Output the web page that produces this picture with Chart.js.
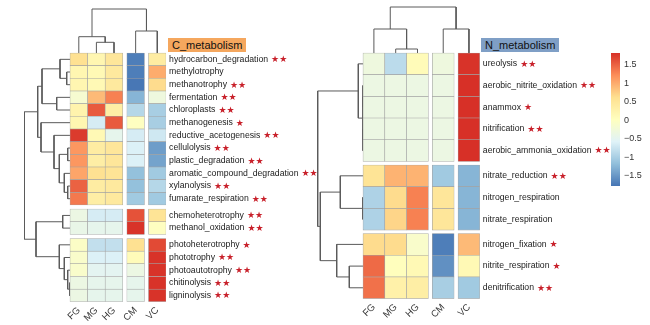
<!DOCTYPE html>
<html>
<head>
<meta charset="utf-8">
<script src="https://cdn.jsdelivr.net/npm/chart.js@4.4.1/dist/chart.umd.min.js"></script>
<style>
  body { margin: 0; background: #fff; width: 650px; height: 325px; overflow: hidden; position: relative; font-family: "Liberation Sans", Arial, sans-serif; }
  canvas { position: absolute; top: 0; }
  .tag { position: absolute; top: 38px; height: 14px; line-height: 14px; font-size: 11px; padding: 0 4px; color: #111; }
</style>
</head>
<body>
<canvas id="keyChart" width="45" height="325" style="left:605px"></canvas>
<canvas id="cChart" width="330" height="325" style="left:0"></canvas>
<canvas id="nChart" width="328" height="325" style="left:290px"></canvas>
<div class="tag" style="left:168px;width:70px;background:#f5a75e">C_metabolism</div>
<div class="tag" style="left:481px;width:70px;background:#7f9fc6">N_metabolism</div>
<script>
const colLabels = ["FG", "MG", "HG", "CM", "VC"];

// C metabolism
const cRows = ["hydrocarbon_degradation", "methylotrophy", "methanotrophy", "fermentation", "chloroplasts",
  "methanogenesis", "reductive_acetogenesis", "cellulolysis", "plastic_degradation",
  "aromatic_compound_degradation", "xylanolysis", "fumarate_respiration", "chemoheterotrophy",
  "methanol_oxidation", "photoheterotrophy", "phototrophy", "photoautotrophy", "chitinolysis", "ligninolysis"];
const cStars = [2, 0, 2, 2, 2, 1, 2, 2, 2, 2, 2, 2, 2, 2, 1, 2, 2, 2, 2];
const cGroups = [12, 2, 5];
const cFG = [0.6, 0.2, 0.2, -0.15, 0.25, 0.2, 1.75, 1.15, 1.15, 1.05, 1.5, 1.35, -0.35, -0.4, -0.05, -0.1, -0.1, -0.35, -0.35];
const cMG = [0.2, 0.15, 0.15, 0.9, 1.55, -0.65, 0.15, 0.4, 0.35, 0.6, 0.4, 0.35, -0.65, -0.45, -0.8, -0.6, -0.5, -0.45, -0.45];
const cHG = [0.5, 0.45, 0.45, 1.3, 0.35, 1.55, -0.45, 0.5, 0.5, 0.55, 0.45, 0.45, -0.65, -0.45, -0.8, -0.6, -0.5, -0.45, -0.45];
const cCM = [-1.7, -1.7, -1.75, -1.25, -0.9, 0.0, -0.65, -0.6, -0.6, -1.15, -1.15, -1.05, 1.6, 1.8, 0.6, 0.1, -0.35, -0.45, -0.45];
const cVC = [0.4, 1.0, 0.65, -0.3, -1.0, -1.0, -0.7, -1.45, -1.4, -1.05, -0.9, -1.05, 0.55, 0.0, 1.65, 1.8, 1.8, 1.8, 1.8];
// dendrograms: [mergeHeight, left, right], leaves are row/column indexes
const cRowTree = [45.5,
  [32.3, [28, [10, 0, [3.3, 1, 2]], [13.3, 3, 4]],
         [29, 5, [16, 6, [10.7, [2.3, 7, 8], [5.7, 9, [2.3, 10, 11]]]]]],
  [34, [7.3, 12, 13], [10.7, 14, [5.7, 15, [2.3, 16, [0.5, 17, 18]]]]]];
const cColTree = [44, [16.3, 0, [10.7, 1, 2]], [22, 3, 4]];

// N metabolism
const nRows = ["ureolysis", "aerobic_nitrite_oxidation", "anammox", "nitrification", "aerobic_ammonia_oxidation",
  "nitrate_reduction", "nitrogen_respiration", "nitrate_respiration", "nitrogen_fixation",
  "nitrite_respiration", "denitrification"];
const nStars = [2, 2, 1, 2, 2, 2, 0, 0, 1, 1, 2];
const nGroups = [5, 3, 3];
const nFG = [-0.3, -0.35, -0.35, -0.35, -0.35, 0.55, -0.95, -0.95, 0.65, 1.45, 1.4];
const nMG = [-0.85, -0.35, -0.35, -0.35, -0.35, 0.95, 0.65, 0.7, 0.65, 0.05, 0.3];
const nHG = [0.1, -0.35, -0.35, -0.35, -0.35, 0.95, 1.3, 1.3, -0.1, 0.15, 0.35];
const nCM = [-0.3, -0.35, -0.35, -0.35, -0.35, -1.05, 0.5, 0.5, -1.7, -1.55, -1.0];
const nVC = [1.8, 1.82, 1.82, 1.82, 1.82, -1.25, -1.25, -1.25, 0.9, 0.15, -1.05];
const nRowTree = [45.3, [4.7, 0, [0.2, [0.1, 1, 2], [0.1, 3, 4]]],
  [42.7, [22.7, 5, [0.3, 6, 7]], [26.3, 8, [13.7, 9, 10]]]];
const nColTree = [46, [24, 0, [4, 1, 2]], [24, 3, 4]];

// colour key
const vMin = -1.77, vMax = 1.82;
const keyTicks = [1.5, 1, 0.5, 0, -0.5, -1, -1.5];
const palette = ["#4575B4", "#91BFDB", "#E0F3F8", "#FFFFBF", "#FEE090", "#FC8D59", "#D73027"];

const FONT = '"Liberation Sans", Arial, sans-serif';
const LABEL_SIZE = 8.7;

function hex(c) {
  return [1, 3, 5].map(i => parseInt(c.slice(i, i + 2), 16));
}

function heat(v) {
  let t = (v - vMin) / (vMax - vMin) * (palette.length - 1);
  t = Math.max(0, Math.min(palette.length - 1, t));
  const i = Math.min(Math.floor(t), palette.length - 2), f = t - i;
  const a = hex(palette[i]), b = hex(palette[i + 1]);
  const m = a.map((x, k) => Math.round(x + (b[k] - x) * f));
  return "rgb(" + m.join(",") + ")";
}

function treeLines(tree, leafPos, toXY) {
  const pts = [];
  function walk(n) {
    if (typeof n === "number") return { p: leafPos[n], h: 0 };
    const a = walk(n[1]), b = walk(n[2]);
    pts.push(toXY(a.p, a.h), toXY(a.p, n[0]), toXY(b.p, n[0]), toXY(b.p, b.h), { x: null, y: null });
    return { p: (a.p + b.p) / 2, h: n[0] };
  }
  walk(tree);
  return pts;
}

// no extra room round the plot area for tick labels
function noPad(s) {
  s.paddingTop = 0; s.paddingBottom = 0; s.paddingLeft = 0; s.paddingRight = 0;
}

const starPlugin = {
  id: "stars",
  afterDraw(chart, args, opts) {
    const s = chart.scales.y, ctx = chart.ctx;
    ctx.save();
    ctx.textBaseline = "middle";
    opts.counts.forEach((n, i) => {
      if (!n) return;
      ctx.font = LABEL_SIZE + "px " + FONT;
      const w = ctx.measureText(opts.labels[i]).width;
      ctx.font = "9px 'DejaVu Sans'";
      ctx.fillStyle = "#c8202a";
      ctx.fillText("\u2605".repeat(n), s.left + 3 + w + 3, s.getPixelForTick(i) + 0.5);
    });
    ctx.restore();
  }
};

function heatChart(id, spec) {
  const colStart = [0, 1, 2, 3 + spec.colGap, 4 + 2 * spec.colGap];
  const colMid = colStart.map(c => c + 0.5);
  const colEnd = colStart[4] + 1;
  const rowMid = [];
  let pos = 0;
  spec.groups.forEach(n => {
    for (let k = 0; k < n; k++) rowMid.push(pos + k + 0.5);
    pos += n + spec.rowGap;
  });
  const rowEnd = pos - spec.rowGap;

  const cells = [], colors = [];
  spec.cols.forEach((vals, c) => vals.forEach((v, r) => {
    cells.push({ x: [colStart[c], colStart[c] + 1], y: rowMid[r] });
    colors.push(heat(v));
  }));
  const rowLines = treeLines(spec.rowTree, rowMid, (p, h) => ({ x: -h / spec.cellW, y: p }));
  const colLines = treeLines(spec.colTree, colMid, (p, h) => ({ x: p, y: -h / spec.cellH }));

  const canvas = document.getElementById(id);
  const axisW = canvas.width - spec.left - colEnd * spec.cellW;
  const axisH = canvas.height - spec.top - rowEnd * spec.cellH;
  const line = { borderColor: "#5a5a5a", borderWidth: 1, pointRadius: 0, fill: false, spanGaps: false, tension: 0 };

  return new Chart(canvas, {
    type: "bar",
    data: {
      datasets: [
        { data: cells, backgroundColor: colors, borderColor: "#a3a3a3", borderWidth: 0.6, borderSkipped: false,
          barPercentage: 1, categoryPercentage: 1, indexAxis: "y" },
        Object.assign({ type: "line", data: rowLines }, line),
        Object.assign({ type: "line", data: colLines }, line)
      ]
    },
    options: {
      indexAxis: "y",
      responsive: false,
      animation: false,
      devicePixelRatio: 1,
      events: [],
      layout: { padding: 0 },
      plugins: { legend: { display: false }, tooltip: { enabled: false },
                 stars: { counts: spec.stars, labels: spec.rows } },
      scales: {
        x: {
          type: "linear", position: "bottom", offset: false, beginAtZero: false,
          min: -spec.left / spec.cellW, max: colEnd,
          grid: { display: false, drawTicks: false }, border: { display: false },
          afterBuildTicks: s => { s.ticks = colMid.map(v => ({ value: v })); },
          afterFit: s => { s.height = axisH; noPad(s); },
          ticks: { autoSkip: false, minRotation: 45, maxRotation: 45, padding: 3,
                   color: "#333", font: { family: FONT, size: 9.5 },
                   callback: (v, i) => colLabels[i] }
        },
        y: {
          type: "linear", position: "right", reverse: true, offset: false, beginAtZero: false,
          min: -spec.top / spec.cellH, max: rowEnd,
          grid: { display: false, drawTicks: false }, border: { display: false },
          afterBuildTicks: s => { s.ticks = rowMid.map(v => ({ value: v })); },
          afterFit: s => { s.width = axisW; noPad(s); },
          ticks: { autoSkip: false, padding: 3, color: "#1a1a1a",
                   font: { family: FONT, size: LABEL_SIZE },
                   callback: (v, i) => spec.rows[i] }
        }
      }
    },
    plugins: [starPlugin]
  });
}

heatChart("cChart", {
  rows: cRows, stars: cStars, groups: cGroups, cols: [cFG, cMG, cHG, cCM, cVC],
  rowTree: cRowTree, colTree: cColTree,
  cellW: 17.6, cellH: 12.67, rowGap: 0.32, colGap: 0.23, left: 70, top: 53
});

heatChart("nChart", {
  rows: nRows, stars: nStars, groups: nGroups, cols: [nFG, nMG, nHG, nCM, nVC],
  rowTree: nRowTree, colTree: nColTree,
  cellW: 21.8, cellH: 21.7, rowGap: 0.16, colGap: 0.18, left: 73, top: 53
});

new Chart(document.getElementById("keyChart"), {
  type: "bar",
  data: {
    labels: ["key"],
    datasets: [{
      data: [[vMin, vMax]],
      barPercentage: 1, categoryPercentage: 1, borderWidth: 0,
      backgroundColor: ctx => {
        const chart = ctx.chart;
        if (!chart.chartArea) return palette[3];
        const y = chart.scales.y;
        const g = chart.ctx.createLinearGradient(0, y.getPixelForValue(vMin), 0, y.getPixelForValue(vMax));
        palette.forEach((c, i) => g.addColorStop(i / (palette.length - 1), c));
        return g;
      }
    }]
  },
  options: {
    responsive: false,
    animation: false,
    devicePixelRatio: 1,
    events: [],
    layout: { padding: { left: 6, top: 53, bottom: 139, right: 0 } },
    plugins: { legend: { display: false }, tooltip: { enabled: false } },
    scales: {
      x: { display: false },
      y: {
        type: "linear", position: "right", min: vMin, max: vMax,
        grid: { display: false, drawTicks: false }, border: { display: false },
        afterBuildTicks: s => { s.ticks = keyTicks.map(v => ({ value: v })); },
        afterFit: s => { s.width = 30; noPad(s); },
        ticks: { padding: 4, color: "#333", font: { family: FONT, size: 9 },
                 callback: v => (v < 0 ? "\u2212" + Math.abs(v) : String(v)) }
      }
    }
  }
});
</script>
</body>
</html>
